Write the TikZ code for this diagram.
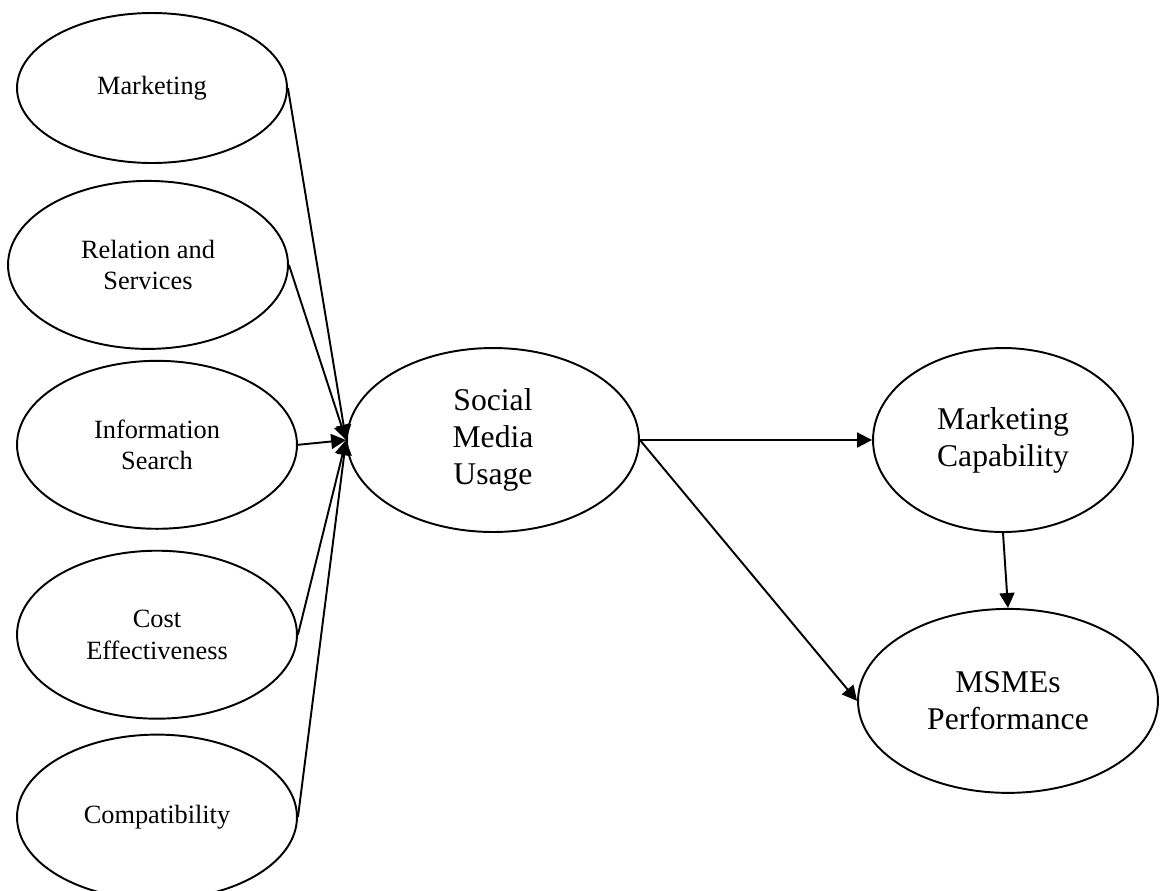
\documentclass[tikz,border=0pt]{standalone}
\usepackage{fontspec}
\setmainfont{Liberation Serif}
\usetikzlibrary{arrows.meta, positioning, shapes}
\tikzset{
        ->, % every edge is directed
        >={Triangle[length=8.5pt, width=8.5pt]}, % solid heads as in the model
    }
\tikzset{
      factor/.style 2 args={
		ellipse, draw, inner sep=0pt,
		minimum width={#1},
		minimum height={#2},
		align=center,
		font=\fontsize{15}{18}\selectfont,
	  },
  		construct/.style 2 args={
    	factor={#1}{#2},
    	font=\fontsize{18}{21}\selectfont,
      }
  	}

\begin{document}
\begin{tikzpicture}[x=0.02cm, y=-0.02cm, line width=1.1pt]
    \useasboundingbox (0,0) rectangle (1163,890);
    % independent factors
    \node [factor={5.4cm}{3cm}] (mkt) at (152,88) {Marketing};
    \node [factor={5.6cm}{3.36cm}, below=0.32cm of mkt, xshift=-0.08cm] (rel) {Relation and\\Services};
    \node [factor={5.6cm}{3.36cm}, below=0.2cm of rel, xshift=0.18cm] (info) {Information\\Search};
    \node [factor={5.6cm}{3.36cm}, below=0.4cm of info] (cost) {Cost\\Effectiveness};
    \node [factor={5.6cm}{3.3cm}, below=0.28cm of cost] (compat) {Compatibility};
    % constructs
    \node [construct={5.84cm}{3.68cm}] (smu) at (493,440) {Social\\Media\\Usage};
    \node [construct={5.2cm}{3.68cm}] (mcap) at (1003,440) {Marketing\\Capability};
    \node [construct={6cm}{3.68cm}, below=1.5cm of mcap, xshift=0.1cm] (perf) {MSMEs\\Performance};

    \draw (mkt.east) -- (smu.west);
    \draw (rel.east) -- (smu.west);
    \draw (info.east) -- (smu.west);
    \draw (cost.east) -- (smu.west);
    \draw (compat.east) -- (smu.west);
    \draw (smu.east) -- (mcap.west);
    \draw (smu.east) -- (perf.west);
    \draw (mcap.south) -- (perf.north);
  \end{tikzpicture}
\end{document}
